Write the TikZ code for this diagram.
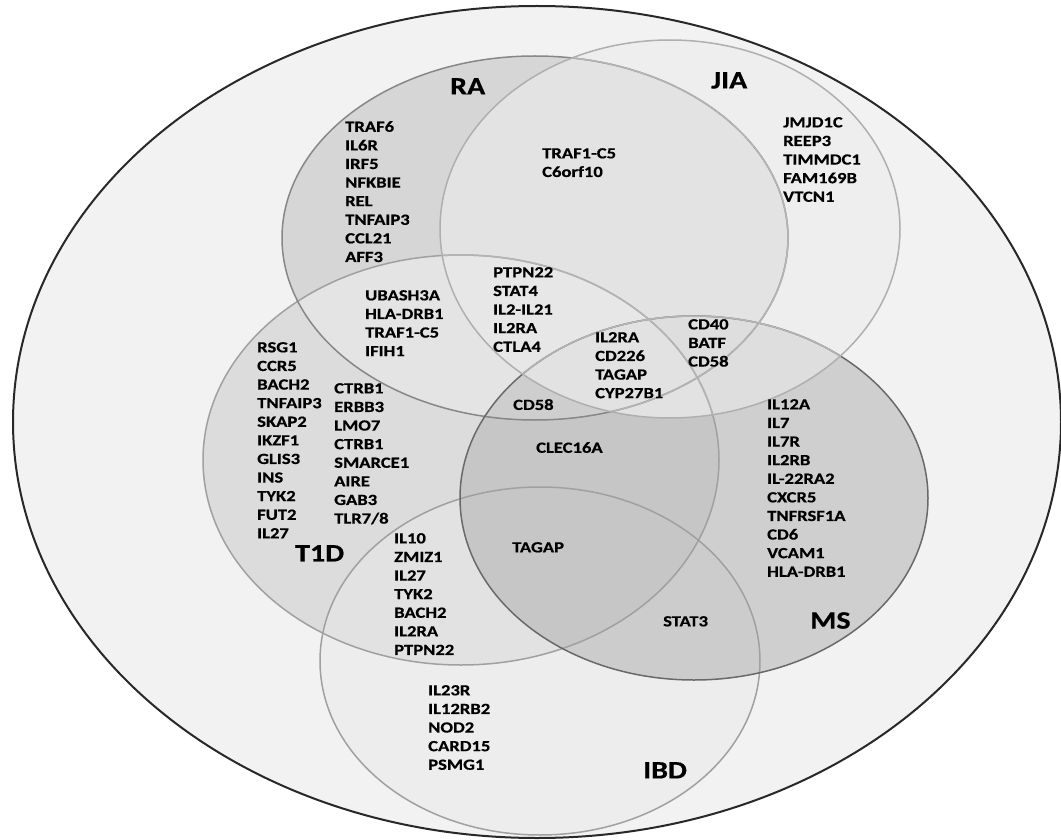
\documentclass[tikz,border=0pt]{standalone}
\usepackage{fontspec}
\newfontfamily\genefont{Carlito}[FakeStretch=1.2, BoldFeatures={FakeBold=0.6}]
\definecolor{cBase}{RGB}{242,242,242}
\definecolor{fRA}{RGB}{214,214,214}
\definecolor{fJIA}{RGB}{238,238,238}
\definecolor{fTD}{RGB}{220,220,220}
\definecolor{fMS}{RGB}{207,207,207}
\definecolor{fIBD}{RGB}{237,237,237}
\definecolor{fRAJIA}{RGB}{227,227,227}
\definecolor{fRATD}{RGB}{228,228,228}
\definecolor{fJIATD}{RGB}{231,231,231}
\definecolor{fJIAMS}{RGB}{222,222,222}
\definecolor{fTDMS}{RGB}{198,198,198}
\definecolor{fTDIBD}{RGB}{226,226,226}
\definecolor{fMSIBD}{RGB}{204,204,204}
\definecolor{fRATDMS}{RGB}{206,206,206}
\definecolor{fJIATDMS}{RGB}{226,226,226}
\definecolor{fTDMSIBD}{RGB}{198,198,198}
\definecolor{lRA}{RGB}{135,135,135}
\definecolor{lJIA}{RGB}{175,175,175}
\definecolor{lTD}{RGB}{160,160,160}
\definecolor{lMS}{RGB}{105,105,105}
\definecolor{lIBD}{RGB}{160,160,160}
\definecolor{lSoft}{RGB}{180,180,180}
\definecolor{lOut}{RGB}{40,40,40}
\def\cOut{(537,422) ellipse [x radius=524pt, y radius=416pt]}
\def\cRA{(535,238) ellipse [x radius=253pt, y radius=182pt]}
\def\cJIA{(670,229) ellipse [x radius=230pt, y radius=189pt]}
\def\cTD{(461,460) ellipse [x radius=258pt, y radius=205pt]}
\def\cMS{(694,498) ellipse [x radius=234pt, y radius=182pt]}
\def\cIBD{(540,661) ellipse [x radius=220pt, y radius=174pt]}
\begin{document}
\begin{tikzpicture}[x=1pt,y=-1pt,
  gene/.style={font=\genefont\bfseries\fontsize{15.5}{18.6}\selectfont, align=left, anchor=north west, inner sep=0pt, text=black},
  lab/.style={font=\genefont\bfseries\fontsize{25}{30}\selectfont, anchor=north west, inner sep=0pt, text=black},
  ring/.style={line width=1.5pt}]
\useasboundingbox (0,0) rectangle (1061,840);
\fill[white] (0,0) rectangle (1061,840);
\fill[cBase] \cOut;
% single sets
\fill[fRA] \cRA;
\fill[fJIA] \cJIA;
\fill[fTD] \cTD;
\fill[fMS] \cMS;
\fill[fIBD] \cIBD;
% pairs
\begin{scope}\clip \cRA; \fill[fRAJIA] \cJIA; \end{scope}
\begin{scope}\clip \cRA; \fill[fRATD] \cTD; \end{scope}
\begin{scope}\clip \cJIA; \fill[fJIATD] \cTD; \end{scope}
\begin{scope}\clip \cRA; \fill[fJIAMS] \cMS; \end{scope}
\begin{scope}\clip \cJIA; \fill[fJIAMS] \cMS; \end{scope}
\begin{scope}\clip \cTD; \fill[fTDMS] \cMS; \end{scope}
\begin{scope}\clip \cTD; \fill[fTDIBD] \cIBD; \end{scope}
\begin{scope}\clip \cMS; \fill[fMSIBD] \cIBD; \end{scope}
% triples
\begin{scope}\clip \cRA; \clip \cTD; \fill[fRATDMS] \cMS; \end{scope}
\begin{scope}\clip \cJIA; \clip \cTD; \fill[fJIATDMS] \cMS; \end{scope}
\begin{scope}\clip \cTD; \clip \cMS; \fill[fTDMSIBD] \cIBD; \end{scope}
% outlines
\draw[ring, lTD] \cTD;
\draw[ring, lIBD] \cIBD;
\draw[ring, lRA] \cRA;
\draw[ring, lMS] \cMS;
% outline parts seen through the lighter JIA disc
\begin{scope}\clip \cJIA;
  \draw[ring, lSoft] \cRA;
  \draw[ring, lSoft] \cMS;
  \draw[ring, lSoft] \cTD;
\end{scope}
\draw[ring, lJIA] \cJIA;
\draw[line width=2pt, lOut] \cOut;
% set labels
\node[lab] (labRA) at (450,78) {RA};
\node[lab] (labJIA) at (711,72) {JIA};
\node[lab] (labTD) at (295,545) {T1D};
\node[lab] (labMS) at (810,612) {MS};
\node[lab] (labIBD) at (643,762) {IBD};
% gene blocks
\node[gene] (gRA) at (345,121) {TRAF6\\IL6R\\IRF5\\NFKBIE\\REL\\TNFAIP3\\CCL21\\AFF3};
\node[gene] (gRAJIA) at (542,148) {TRAF1-C5\\C6orf10};
\node[gene] (gJIA) at (783,117) {JMJD1C\\REEP3\\TIMMDC1\\FAM169B\\VTCN1};
\node[gene] (gRAJIATD) at (493,267) {PTPN22\\STAT4\\IL2-IL21\\IL2RA\\CTLA4};
\node[gene] (gRATD) at (365,290) {UBASH3A\\HLA-DRB1\\TRAF1-C5\\IFIH1};
\node[gene] (gTDa) at (257,342) {RSG1\\CCR5\\BACH2\\TNFAIP3\\SKAP2\\IKZF1\\GLIS3\\INS\\TYK2\\FUT2\\IL27};
\node[gene] (gTDb) at (334,383) {CTRB1\\ERBB3\\LMO7\\CTRB1\\SMARCE1\\AIRE\\GAB3\\TLR7/8};
\node[gene] (gTDIBD) at (394,533) {IL10\\ZMIZ1\\IL27\\TYK2\\BACH2\\IL2RA\\PTPN22};
\node[gene] (gIBD) at (428,685) {IL23R\\IL12RB2\\NOD2\\CARD15\\PSMG1};
\node[gene] (gTDMSIBD) at (512,542) {TAGAP};
\node[gene] (gMSIBD) at (663,616) {STAT3};
\node[gene] (gJIATDMS) at (595,332) {IL2RA\\CD226\\TAGAP\\CYP27B1};
\node[gene] (gJIAMS) at (688,319) {CD40\\BATF\\CD58};
\node[gene] (gRATDMS) at (513,399) {CD58};
\node[gene] (gTDMS) at (536,442) {CLEC16A};
\node[gene] (gMS) at (767,399) {IL12A\\IL7\\IL7R\\IL2RB\\IL-22RA2\\CXCR5\\TNFRSF1A\\CD6\\VCAM1\\HLA-DRB1};
\end{tikzpicture}
\end{document}
